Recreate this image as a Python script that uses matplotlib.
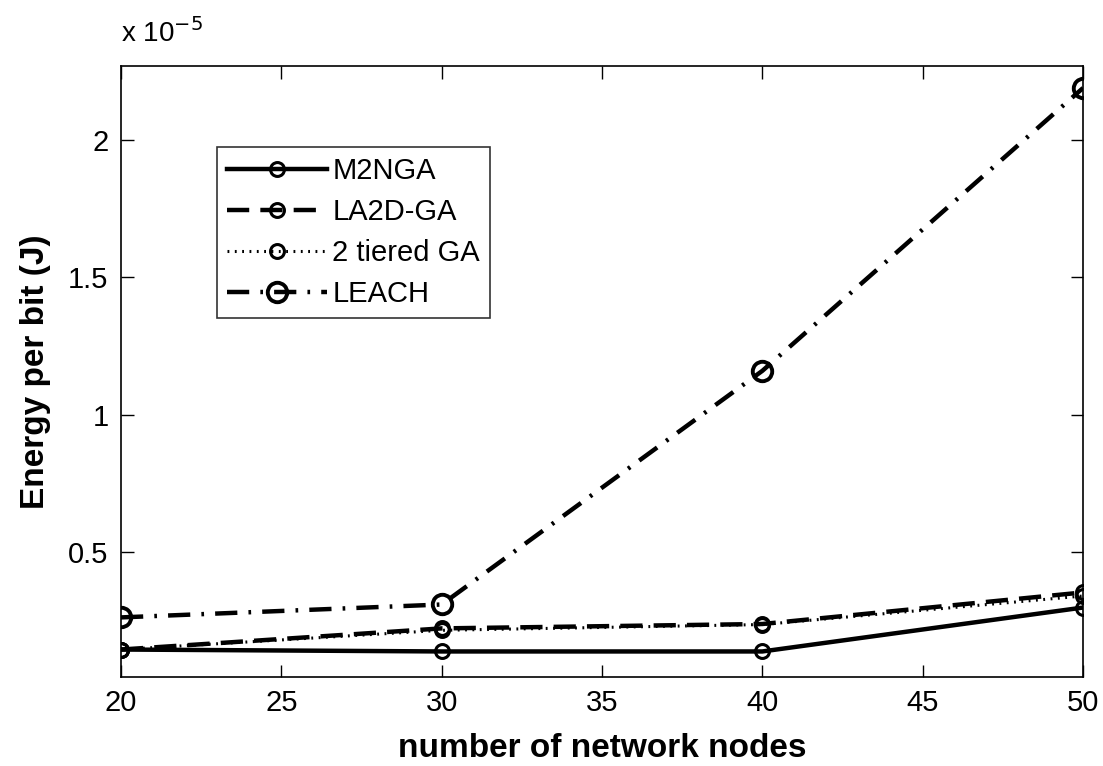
import matplotlib
matplotlib.use("Agg")
import matplotlib.pyplot as plt
from matplotlib.ticker import FormatStrFormatter

plt.rcParams['font.family'] = ['Liberation Sans', 'DejaVu Sans']

# data (energy per bit, in units of 1e-5 J)
nodes = [20, 30, 40, 50]
m2nga = [0.145, 0.138, 0.138, 0.298]
la2d_ga = [0.145, 0.222, 0.238, 0.353]
tiered_ga = [0.145, 0.215, 0.236, 0.340]
leach = [0.262, 0.309, 1.16, 2.19]

fig = plt.figure(figsize=(11.03, 7.66), dpi=100)
ax = fig.add_axes([0.1097, 0.1162, 0.8722, 0.7976])

ax.plot(nodes, m2nga, color='black', linestyle='-', linewidth=3.2,
        marker='o', markersize=10, markerfacecolor='none', markeredgewidth=2.2, label='M2NGA')
ax.plot(nodes, la2d_ga, color='black', linestyle=(0, (5, 2.5)), linewidth=3.2,
        marker='o', markersize=10, markerfacecolor='none', markeredgewidth=2.2, label='LA2D-GA')
ax.plot(nodes, tiered_ga, color='black', linestyle=(0, (0.6, 1.8)), linewidth=2.2,
        marker='o', markersize=10, markerfacecolor='none', markeredgewidth=2.2, label='2 tiered GA')
ax.plot(nodes, leach, color='black', linestyle=(0, (5, 2.5, 0.6, 2.5)), linewidth=3.2,
        marker='o', markersize=14, markerfacecolor='none', markeredgewidth=2.8, label='LEACH')

ax.set_xlim(20, 50)
ax.set_ylim(0.045, 2.27)
ax.set_xticks([20, 25, 30, 35, 40, 45, 50])
ax.set_yticks([0.5, 1, 1.5, 2])
ax.yaxis.set_major_formatter(FormatStrFormatter('%g'))

ax.tick_params(direction='in', length=9, width=1, labelsize=21, pad=9,
               top=True, right=True)
for s in ax.spines.values():
    s.set_linewidth(1.2)

ax.set_xlabel('number of network nodes', fontsize=24, fontweight='bold', labelpad=11)
ax.set_ylabel('Energy per bit (J)', fontsize=24, fontweight='bold', labelpad=12)
ax.text(0.0, 1.03, r'x 10$^{-5}$', transform=ax.transAxes, fontsize=20, ha='left', va='bottom')

leg = ax.legend(loc='upper left', bbox_to_anchor=(0.1, 0.868), fontsize=21,
                frameon=True, fancybox=False, edgecolor='black', handlelength=3.4,
                borderpad=0.35, labelspacing=0.45, handletextpad=0.2, borderaxespad=0)
leg.get_frame().set_linewidth(1.2)

fig.savefig('out.png', dpi=100)
